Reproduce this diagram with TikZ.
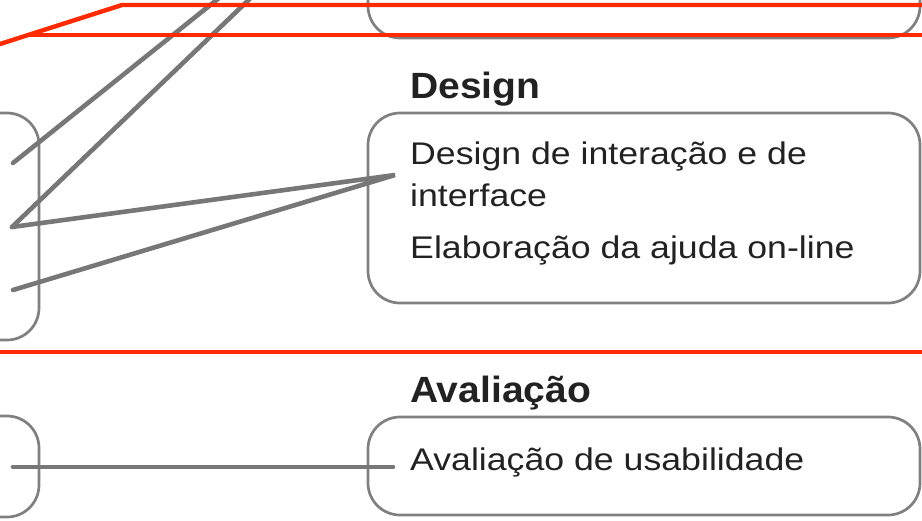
\documentclass[tikz,border=0pt]{standalone}
\usepackage{fontspec}
\newfontfamily\bodyfont[FakeStretch=1.14]{Liberation Sans}
\newfontfamily\headfont[FakeStretch=1.07]{Liberation Sans}
\definecolor{rulered}{HTML}{FF2A00}
\definecolor{linkgray}{HTML}{777777}
\definecolor{framegray}{HTML}{808080}
\definecolor{ink}{HTML}{222222}

\begin{document}
\begin{tikzpicture}[x=1pt,y=-1pt,
  card/.style={draw=framegray, line width=2.7pt, rounded corners=32pt,
    inner sep=0pt, outer sep=0pt, anchor=north west},
  link/.style={draw=linkgray, line width=4.6pt, line cap=round},
  divider/.style={draw=rulered, line width=4.4pt},
  head/.style={anchor=base west, inner sep=0pt, text=ink,
    font=\headfont\bfseries\fontsize{36.5}{40}\selectfont},
  item/.style={anchor=base west, inner sep=0pt, text=ink,
    font=\bodyfont\fontsize{31.3}{42}\selectfont}]

\useasboundingbox (0,0) rectangle (922,520);
\clip (0,0) rectangle (922,520);

% activity cards
\node[card, minimum width=552pt, minimum height=238pt] (topcard)    at (368,-200) {};
\node[card, minimum width=552pt, minimum height=190pt] (designcard) at (368,113) {};
\node[card, minimum width=552pt, minimum height=98pt]  (evalcard)   at (368,417) {};
\node[card, minimum width=279pt, minimum height=227pt] (leftdesign) at (-240,113) {};
\node[card, minimum width=279pt, minimum height=101pt] (lefteval)   at (-240,416) {};

% connector end points
\coordinate (la) at (13,163);
\coordinate (lb) at (12,227);
\coordinate (lc) at (13,290);
\coordinate (upa) at (229,-10);
\coordinate (upb) at (259,-10);
\coordinate (dx) at (395,175);
\coordinate (ea) at (13,467);
\coordinate (eb) at (393,467);

% connectors
\draw[link] (la) -- (upa);
\draw[link] (lb) -- (upb);
\draw[link] (lb) -- (dx) -- (lc);
\draw[link] (ea) -- (eb);

% phase dividers
\coordinate (ra) at (-10,47.2);
\coordinate (rb) at (122,5);
\coordinate (rc) at (930,5);
\coordinate (rd) at (28,35);
\coordinate (re) at (930,35);
\coordinate (rf) at (-10,352);
\coordinate (rg) at (930,352);
\draw[divider, line join=miter] (ra) -- (rb) -- (rc);
\draw[divider] (rd) -- (re);
\draw[divider] (rf) -- (rg);

% labels
\node[head] (designhead) at (410,98) {Design};
\node[item] (d1) at (410,164) {Design de interação e de};
\node[item] (d2) at (410,206) {interface};
\node[item] (d3) at (410,258) {Elaboração da ajuda on-line};
\node[head] (evalhead) at (410,402) {Avaliação};
\node[item] (e1) at (410,470) {Avaliação de usabilidade};
\end{tikzpicture}
\end{document}
